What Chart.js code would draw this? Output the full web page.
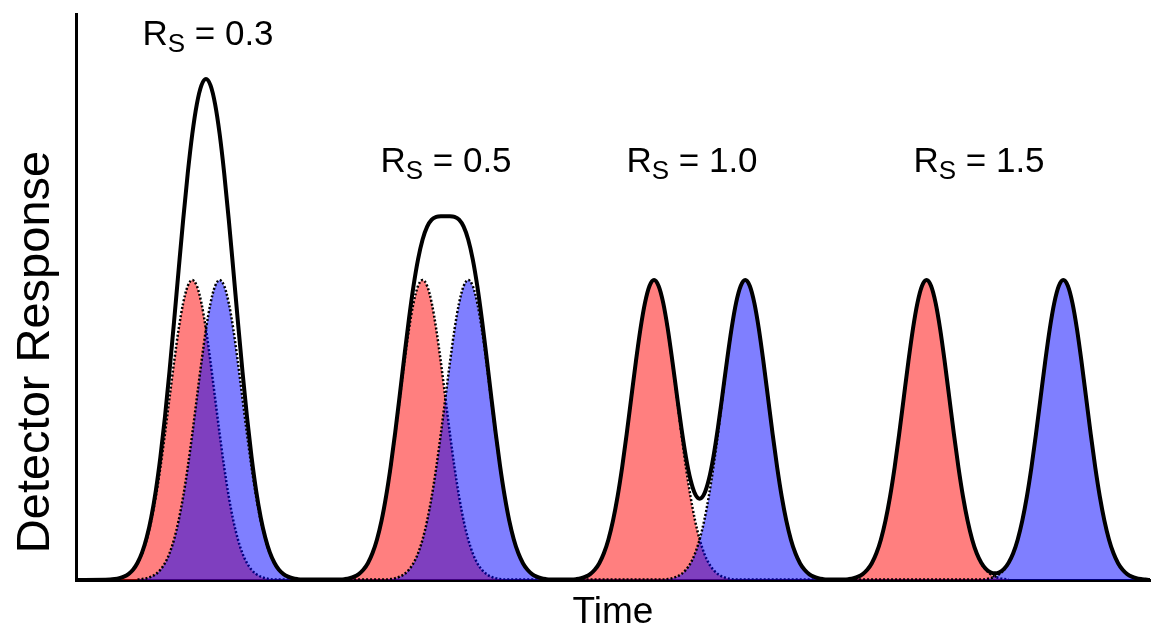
<!DOCTYPE html>
<html>
<head>
<meta charset="utf-8">
<title>Peak resolution</title>
<script src="https://cdn.jsdelivr.net/npm/chart.js"></script>
<style>
  html, body { margin: 0; padding: 0; background: #fff; }
  #wrap { width: 1151px; height: 628px; }
</style>
</head>
<body>
<div id="wrap"><canvas id="chart" width="1151" height="628"></canvas></div>
<script>
// peak profile, as a fraction of peak height,
// sampled every 0.2 peak widths from -3.6 to +3.6
var peakStep = 0.2;
var peakShape = [
  0.0015, 0.0031, 0.0060, 0.0111, 0.0198, 0.0340, 0.0561, 0.0889, 0.1353,
  0.1979, 0.2780, 0.3753, 0.4868, 0.6065, 0.7261, 0.8353, 0.9231, 0.9802,
  1.0000,
  0.9802, 0.9231, 0.8353, 0.7261, 0.6065, 0.4868, 0.3753, 0.2780, 0.1979,
  0.1353, 0.0889, 0.0561, 0.0340, 0.0198, 0.0111, 0.0060, 0.0031, 0.0015
];

// retention times (in peak widths) of the first and second peak of each pair
var redCenters = [5.1, 15.2, 25.35, 37.3];
var blueCenters = [6.3, 17.2, 29.35, 43.3];

// resolution of each pair
var rsValues = ['0.3', '0.5', '1.0', '1.5'];

// axis ranges
var timeMax = 47.1;
var responseMax = 1.887;

// build the points of one peak from the profile
function peakPoints(center) {
    var pts = [];
    var half = (peakShape.length - 1) / 2;
    for (var i = 0; i < peakShape.length; i++) {
        pts.push({ x: center + (i - half) * peakStep, y: peakShape[i] });
    }
    return pts;
}

var redData = [];
var blueData = [];
for (var i = 0; i < redCenters.length; i++) {
    redData = redData.concat(peakPoints(redCenters[i]));
    blueData = blueData.concat(peakPoints(blueCenters[i]));
}

// the detector trace is the sum of both peaks of a pair
var traceData = [{ x: 0, y: 0 }];
for (var i = 0; i < redCenters.length; i++) {
    var half = (peakShape.length - 1) / 2;
    var shift = Math.round((blueCenters[i] - redCenters[i]) / peakStep);
    for (var j = 0; j < peakShape.length + shift; j++) {
        var r = j < peakShape.length ? peakShape[j] : 0;
        var b = (j - shift >= 0 && j - shift < peakShape.length) ? peakShape[j - shift] : 0;
        traceData.push({ x: redCenters[i] + (j - half) * peakStep, y: r + b });
    }
}
traceData.push({ x: timeMax, y: 0 });

// draw the axis titles and the Rs labels
var textPlugin = {
    id: 'texts',
    afterDraw: function (chart) {
        var ctx = chart.ctx;
        ctx.save();
        ctx.fillStyle = '#000';
        ctx.textBaseline = 'alphabetic';

        // x axis title
        ctx.font = '37px "Liberation Sans", Arial, sans-serif';
        ctx.textAlign = 'center';
        ctx.fillText('Time', 613, 623);

        // y axis title
        ctx.save();
        ctx.translate(49, 352);
        ctx.rotate(-Math.PI / 2);
        ctx.font = '47px "Liberation Sans", Arial, sans-serif';
        ctx.fillText('Detector Response', 0, 0);
        ctx.restore();

        // Rs labels, centre x and baseline y
        var labelPos = [[208, 45], [446, 172], [692, 172], [979, 172]];
        for (var k = 0; k < rsValues.length; k++) {
            var big = '35px "Liberation Sans", Arial, sans-serif';
            var small = '26px "Liberation Sans", Arial, sans-serif';
            var rest = ' = ' + rsValues[k];
            ctx.font = big;
            var wR = ctx.measureText('R').width;
            var wRest = ctx.measureText(rest).width;
            ctx.font = small;
            var wS = ctx.measureText('S').width;
            var x0 = labelPos[k][0] - (wR + wS + wRest) / 2;
            var y0 = labelPos[k][1];
            ctx.textAlign = 'left';
            ctx.font = big;
            ctx.fillText('R', x0, y0);
            ctx.font = small;
            ctx.fillText('S', x0 + wR, y0 + 7);
            ctx.font = big;
            ctx.fillText(rest, x0 + wR + wS, y0);
        }
        ctx.restore();
    }
};

var ctx = document.getElementById('chart').getContext('2d');
var myChart = new Chart(ctx, {
    type: 'line',
    data: {
        datasets: [
            {
                label: 'Detector trace',
                data: traceData,
                borderColor: '#000',
                borderWidth: 4,
                fill: false,
                pointRadius: 0,
                cubicInterpolationMode: 'monotone'
            },
            {
                label: 'Second peak',
                data: blueData,
                borderColor: '#000',
                borderWidth: 2.5,
                borderDash: [2, 2],
                backgroundColor: 'rgba(0, 0, 255, 0.5)',
                fill: 'origin',
                pointRadius: 0,
                cubicInterpolationMode: 'monotone'
            },
            {
                label: 'First peak',
                data: redData,
                borderColor: '#000',
                borderWidth: 2.5,
                borderDash: [2, 2],
                backgroundColor: 'rgba(255, 0, 0, 0.5)',
                fill: 'origin',
                pointRadius: 0,
                cubicInterpolationMode: 'monotone'
            }
        ]
    },
    options: {
        responsive: false,
        animation: false,
        devicePixelRatio: 1,
        layout: { padding: { left: 76, right: 1, top: 14, bottom: 48 } },
        scales: {
            x: {
                type: 'linear',
                min: 0,
                max: timeMax,
                grid: { display: false, drawTicks: false },
                ticks: { display: false },
                border: { display: true, color: '#000', width: 3 }
            },
            y: {
                type: 'linear',
                min: 0,
                max: responseMax,
                grid: { display: false, drawTicks: false },
                ticks: { display: false },
                border: { display: true, color: '#000', width: 3 }
            }
        },
        plugins: {
            legend: { display: false },
            tooltip: { enabled: false }
        }
    },
    plugins: [textPlugin]
});
</script>
</body>
</html>
